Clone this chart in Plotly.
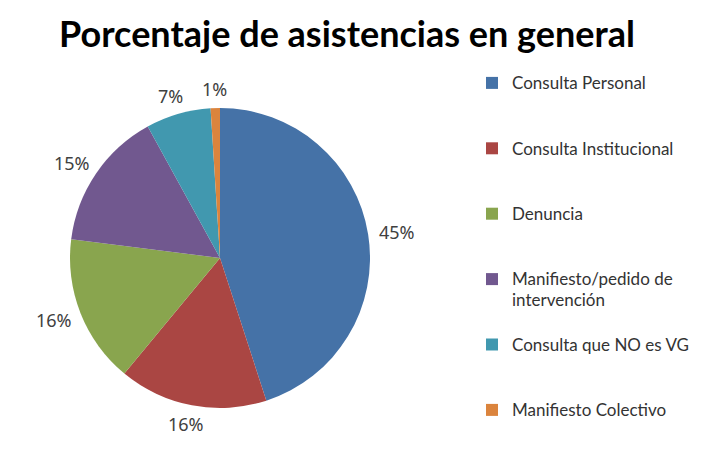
import math
import plotly.graph_objects as go

title_text = "Porcentaje de asistencias en general"
categories = ["Consulta Personal", "Consulta Institucional", "Denuncia",
              "Manifiesto/pedido de<br>intervención", "Consulta que NO es VG",
              "Manifiesto Colectivo"]
values = [45, 16, 16, 15, 7, 1]
colors = ["#4572A7", "#AA4643", "#89A54E", "#71588F", "#4198AF", "#DB843D"]

# pad legend entries to three lines so items are evenly spaced like the original
legend_labels = []
for i, c in enumerate(categories):
    n = c.count("<br>") + 1
    pad = 0 if i == len(categories) - 1 else 3 - n
    legend_labels.append('<span style="font-size:17px">' + c + "</span>" + "<br> " * pad)

W, H = 724, 449
OFF = 8  # page offset of the figure inside the browser window
cx, cy, r = 220 - OFF, 258 - OFF, 150

fig = go.Figure(go.Pie(
    labels=legend_labels,
    values=values,
    sort=False,
    direction="clockwise",
    rotation=0,
    marker=dict(colors=colors, line=dict(width=0)),
    textinfo="none",
    hoverinfo="label+percent",
    domain=dict(x=[(cx - r) / W, (cx + r) / W], y=[(H - cy - r) / H, (H - cy + r) / H]),
    showlegend=True,
))

# percentage labels placed just outside each slice, at the slice's middle angle
total = sum(values)
cum = 0
gap = 9
for v in values:
    mid = (cum + v / 2) / total * 2 * math.pi
    cum += v
    s, c = math.sin(mid), math.cos(mid)
    tw, th = 40, 20
    px = cx + (r + gap) * s + (tw / 2) * s
    py = cy - (r + gap) * c - (th / 2) * c
    fig.add_annotation(
        x=px / W, y=1 - py / H, xref="paper", yref="paper",
        xanchor="center", yanchor="middle", showarrow=False,
        text=f"{round(v / total * 100)}%",
        font=dict(family="Noto Sans", size=18, color="#404040"),
    )

fig.update_layout(
    width=W, height=H,
    margin=dict(l=0, r=0, t=0, b=0),
    paper_bgcolor="white",
    title=dict(text="<b>" + title_text + "</b>", x=(347 - OFF) / W, xanchor="center",
               y=1 - (34 - OFF) / H, yanchor="middle",
               font=dict(family="Lato", size=36, color="#000000")),
    legend=dict(x=(472 - OFF) / W, xanchor="left", y=1 - (66 - OFF) / H, yanchor="top",
                valign="top", font=dict(family="Lato", size=16, color="#333333"),
                itemclick=False),
)

fig.write_html("out.html")
